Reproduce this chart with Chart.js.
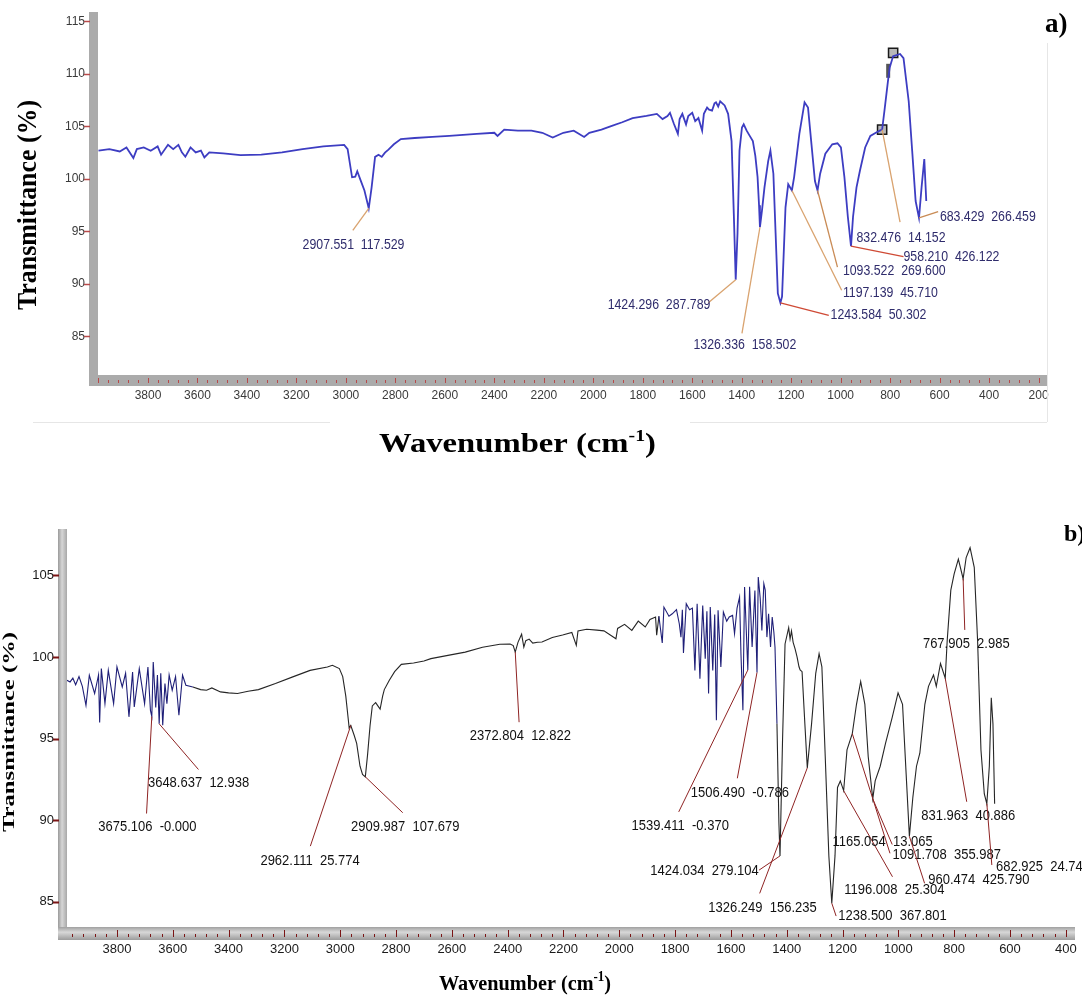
<!DOCTYPE html>
<html>
<head>
<meta charset="utf-8">
<script src="https://cdn.jsdelivr.net/npm/chart.js@4.4.1/dist/chart.umd.min.js"></script>
<style>
  body { margin: 0; background: #fff; }
  #wrap { position: relative; width: 1082px; height: 996px; overflow: hidden; background: #fff; }
  canvas { position: absolute; left: 0; }
  #chart-a { top: 0; }
  #chart-b { top: 470px; }
</style>
</head>
<body>
<div id="wrap">
  <canvas id="chart-a" width="1082" height="470"></canvas>
  <canvas id="chart-b" width="1082" height="526"></canvas>
</div>
<script>
// ---- spectrum a (wavenumber cm-1 / transmittance %) ----
const waveA = [
  4000, 3956, 3914, 3887, 3859, 3845, 3817, 3789, 3761, 3747, 3719, 3698, 3677, 3663, 3649, 3628,
  3607, 3586, 3572, 3552, 3496, 3426, 3342, 3258, 3175, 3091, 3007, 2993, 2975, 2962, 2954, 2940,
  2925, 2907.551, 2896, 2882, 2868, 2855, 2842, 2828, 2806, 2778, 2722, 2650, 2582, 2471, 2400, 2387,
  2360, 2305, 2250, 2206, 2164, 2121, 2079, 2037, 2016, 1967, 1925, 1883, 1841, 1785, 1743, 1720,
  1700, 1690, 1675, 1658, 1651, 1640, 1625, 1616, 1600, 1588, 1575, 1560, 1553, 1540, 1532, 1520,
  1510, 1504, 1495, 1487, 1469, 1455, 1441, 1432, 1424.296, 1417, 1409, 1399, 1392, 1380, 1370, 1355,
  1345, 1336, 1330, 1326.336, 1318, 1308, 1293, 1284, 1272, 1263, 1254, 1243.584, 1237, 1223, 1212, 1197.139,
  1188, 1167, 1146, 1132, 1118, 1104, 1093.522, 1083, 1062, 1034, 1013, 999, 985, 971, 958.21, 950,
  936, 922, 901, 880, 858, 842, 832.476, 823, 809, 802, 788, 774, 760, 746, 725, 711,
  697, 683.429, 673, 662, 654
];
const transA = [
  102.7, 102.84, 102.62, 103.0, 101.99, 102.84, 103.0, 102.69, 103.1, 102.31, 103.25, 102.84, 103.25, 102.53, 102.12, 103.0,
  102.53, 102.69, 102.05, 102.53, 102.43, 102.27, 102.31, 102.53, 102.84, 103.1, 103.25, 102.84, 100.16, 100.22, 100.73, 99.84,
  98.9, 97.2, 99.2, 102.1, 102.3, 102.1, 102.5, 102.8, 103.3, 103.8, 103.9, 104.0, 104.1, 104.3, 104.4, 104.1,
  104.7, 104.6, 104.6, 104.4, 103.95, 104.4, 104.6, 104.0, 104.4, 104.7, 105.05, 105.4, 105.8, 106.0, 106.2, 105.7,
  106.0, 106.3, 105.3, 104.3, 105.7, 106.2, 105.2, 106.0, 106.3, 105.5, 105.8, 104.6, 106.2, 106.8, 106.6, 106.5,
  107.2, 107.3, 106.9, 107.4, 107.0, 106.2, 103.6, 96.7, 90.4, 94.8, 102.7, 104.9, 105.2, 104.6, 104.2, 103.6,
  102.2, 100.2, 97.5, 95.4, 97.0, 99.2, 101.7, 102.7, 100.5, 94.8, 89.1, 88.2, 88.8, 97.3, 99.5, 98.9,
  100.2, 104.3, 107.3, 106.8, 103.3, 99.8, 98.9, 100.5, 102.4, 103.3, 103.4, 103.0, 100.2, 96.4, 93.6, 96.4,
  99.2, 100.8, 103.0, 104.1, 104.4, 104.6, 104.7, 106.5, 109.3, 110.6, 111.7, 111.8, 111.9, 111.5, 107.4, 102.7,
  97.9, 96.3, 99.2, 101.9, 97.9
];
// cursor markers on spectrum a
const markWaveA = [832.476, 788];
const markTransA = [104.7, 112.0];
const barWaveA = [808];
const barTransA = [110.3];

// ---- spectrum b ----
const waveB = [
  3979, 3968, 3958, 3948, 3936, 3924, 3911, 3899, 3880, 3866, 3862, 3856, 3843, 3831, 3812, 3800,
  3781, 3769, 3757, 3744, 3738, 3720, 3701, 3689, 3680, 3675.106, 3670, 3661, 3655, 3648.637, 3643, 3636,
  3628, 3621, 3613, 3602, 3590, 3578, 3565, 3553, 3528, 3500, 3479, 3460, 3429, 3400, 3368, 3330,
  3293, 3232, 3170, 3108, 3046, 3028, 3003, 2991, 2980, 2970, 2968, 2962.111, 2950, 2941, 2929, 2920,
  2909.987, 2902, 2893, 2885, 2873, 2865, 2857, 2848, 2842, 2824, 2805, 2781, 2737, 2700, 2675, 2614,
  2552, 2490, 2428, 2391, 2380, 2372.804, 2363, 2350, 2342, 2335, 2323, 2310, 2293, 2277, 2240, 2203,
  2170, 2154, 2148, 2117, 2080, 2055, 2012, 2006, 1981, 1955, 1932, 1907, 1890, 1870, 1866, 1858,
  1846, 1840, 1822, 1810, 1795, 1785, 1779, 1774, 1770, 1760, 1748, 1738, 1729, 1721, 1711, 1701,
  1692, 1686, 1680, 1674, 1665, 1658, 1652, 1646, 1636, 1627, 1615, 1606, 1594, 1587, 1578, 1569,
  1564, 1557, 1551, 1539.411, 1533, 1524, 1514, 1506.49, 1502, 1495, 1489, 1482, 1477, 1471, 1465, 1458,
  1452, 1446, 1442, 1435, 1428, 1424.034, 1415, 1406, 1393, 1388, 1383, 1377, 1370, 1363, 1356, 1352,
  1345, 1335, 1326.249, 1311, 1296, 1284, 1274, 1262, 1249, 1238.5, 1227, 1218, 1208, 1196.008, 1184, 1165.054,
  1150, 1135, 1120, 1108, 1091.708, 1083, 1065, 1046, 1022, 1001, 985, 972, 960.474, 948, 935, 923,
  905, 892, 874, 864, 849, 831.963, 825, 812, 800, 785, 767.905, 757, 743, 728, 716, 704,
  692, 682.925, 674, 667, 661, 655
];
const transB = [
  98.57, 98.47, 98.7, 98.3, 98.8, 98.2, 97.04, 98.88, 97.76, 98.9, 95.98, 99.29, 97.14, 99.18, 97.14, 99.39,
  98.16, 99.0, 96.33, 99.08, 96.94, 99.29, 97.14, 99.39, 96.73, 96.35, 99.69, 96.9, 98.9, 95.9, 99.0, 95.82,
  98.37, 97.14, 98.9, 97.96, 98.8, 96.43, 98.88, 98.27, 98.16, 98.0, 97.96, 98.1, 97.86, 97.8, 97.76, 97.9,
  98.0, 98.37, 98.78, 99.18, 99.39, 99.49, 99.29, 98.8, 97.6, 96.0, 95.65, 95.8, 95.2, 94.7, 93.3, 92.8,
  92.65, 94.0, 95.8, 97.0, 97.2, 97.0, 96.8, 97.6, 98.0, 98.57, 99.1, 99.55, 99.63, 99.75, 99.9, 100.1,
  100.3, 100.6, 100.78, 100.8, 100.7, 100.3, 100.9, 101.4, 100.6, 101.0, 101.1, 100.85, 100.9, 100.92, 101.2, 101.35,
  101.5, 100.71, 101.6, 101.7, 101.65, 101.6, 101.12, 101.75, 102.0, 101.63, 102.2, 101.84, 102.3, 102.45, 101.33, 102.5,
  100.86, 103.06, 102.5, 102.65, 102.9, 102.04, 101.22, 102.9, 100.24, 103.27, 102.9, 103.0, 99.18, 103.27, 98.67, 103.16,
  99.9, 102.8, 97.76, 103.06, 99.18, 102.6, 96.12, 102.86, 99.39, 102.76, 102.2, 102.45, 102.55, 101.43, 103.0, 103.67,
  100.2, 96.73, 104.29, 99.2, 104.3, 100.61, 104.08, 99.05, 104.9, 103.6, 101.63, 104.49, 104.1, 101.22, 102.65, 100.61,
  102.45, 101.5, 100.6, 95.9, 89.8, 87.8, 94.9, 100.8, 101.8, 101.1, 101.6, 100.9, 100.5, 100.0, 99.4, 99.2,
  99.1, 95.9, 93.2, 95.9, 99.0, 100.2, 99.4, 93.9, 87.8, 84.9, 87.8, 92.0, 92.4, 91.8, 94.3, 95.3,
  97.1, 98.5, 97.1, 93.9, 91.3, 92.4, 93.3, 94.7, 96.3, 97.8, 97.1, 92.8, 89.0, 91.4, 93.3, 94.1,
  97.1, 98.2, 98.9, 98.2, 99.6, 98.7, 101.0, 104.1, 105.1, 106.0, 104.8, 106.1, 106.7, 105.5, 101.0, 94.3,
  91.6, 91.0, 93.3, 97.5, 95.9, 91.0
];

// ---- axis ticks ----
const xTicksA = [3800, 3600, 3400, 3200, 3000, 2800, 2600, 2400, 2200, 2000, 1800, 1600, 1400, 1200, 1000, 800, 600, 400, 200];
const yTicksA = [85, 90, 95, 100, 105, 110, 115];
const xTicksB = [3800, 3600, 3400, 3200, 3000, 2800, 2600, 2400, 2200, 2000, 1800, 1600, 1400, 1200, 1000, 800, 600, 400];
const yTicksB = [85, 90, 95, 100, 105];

// ---- peak labels ----
const noteTextA = ['2907.551  117.529', '1424.296  287.789', '1326.336  158.502', '1243.584  50.302', '1197.139  45.710',
  '1093.522  269.600', '958.210  426.122', '832.476  14.152', '683.429  266.459'];
const noteWaveA = [2907.551, 1424.296, 1326.336, 1243.584, 1197.139, 1093.522, 958.21, 832.476, 683.429];
const noteTextB = ['3648.637  12.938', '3675.106  -0.000', '2962.111  25.774', '2909.987  107.679', '2372.804  12.822',
  '1539.411  -0.370', '1506.490  -0.786', '1424.034  279.104', '1326.249  156.235', '1238.500  367.801',
  '1196.008  25.304', '1165.054  13.065', '1091.708  355.987', '960.474  425.790', '831.963  40.886',
  '767.905  2.985', '682.925  24.747'];
const noteWaveB = [3648.637, 3675.106, 2962.111, 2909.987, 2372.804, 1539.411, 1506.49, 1424.034, 1326.249, 1238.5,
  1196.008, 1165.054, 1091.708, 960.474, 831.963, 767.905, 682.925];

// label placement: [leader end x, leader end y, text x, text y] in axis units
const notePlaceA = [
  [2972, 95.1, 3175, 93.7], [1535, 88.2, 1942, 88.0], [1399, 85.3, 1595, 84.2], [1048, 87.0, 1041, 87.0],
  [996, 89.4, 991, 89.1], [1013, 91.6, 991, 91.2], [746, 92.6, 746, 92.6], [760, 95.9, 936, 94.4], [606, 96.9, 599, 96.4]
];
const noteLineA = ['#d9a36f', '#d9a36f', '#d9a36f', '#cf4a35', '#d9a36f', '#c98b55', '#cf4a35', '#d9a36f', '#c98b55'];
const notePlaceB = [
  [3508, 93.1, 3689, 92.25], [3694, 90.4, 3867, 89.55], [3107, 88.4, 3286, 87.5], [2776, 90.45, 2961, 89.55],
  [2359, 96.0, 2536, 95.15], [1787, 90.5, 1956, 89.63], [1577, 92.56, 1744, 91.64], [1499, 86.93, 1889, 86.87],
  [1497, 85.5, 1681, 84.64], [1223, 84.11, 1215, 84.11], [1021, 86.52, 1194, 85.7], [1030, 87.96, 1236, 88.67],
  [1022, 88.5, 1021, 87.85], [906, 86.12, 893, 86.32], [755, 91.12, 918, 90.25], [762, 101.66, 912, 100.8],
  [665, 87.24, 650, 87.1]
];
const noiseBandsB = [[3540, 3990], [1440, 1860]];

const SERIF = '"Liberation Serif", "Times New Roman", serif';
const SANS = '"Liberation Sans", Arial, sans-serif';

const toPoints = (ws, ts) => ws.map((w, i) => ({ x: w, y: ts[i] }));

// text squeezed/stretched along its baseline to a target length
function fitText(ctx, str, cx, cy, angle, font, len) {
  ctx.save();
  ctx.font = font;
  const sx = len / ctx.measureText(str).width;
  ctx.translate(cx, cy);
  ctx.rotate(angle);
  ctx.scale(sx, 1);
  ctx.textAlign = 'center';
  ctx.textBaseline = 'middle';
  ctx.fillStyle = '#000';
  ctx.fillText(str, 0, 0);
  ctx.restore();
}

function drawUnitTitle(ctx, left, right, baseline, size) {
  const big = `bold ${size}px ${SERIF}`;
  const small = `bold ${Math.round(size * 0.62)}px ${SERIF}`;
  ctx.save();
  ctx.font = big;
  const w1 = ctx.measureText('Wavenumber (cm').width;
  const w3 = ctx.measureText(')').width;
  ctx.font = small;
  const w2 = ctx.measureText('-1').width;
  const sx = (right - left) / (w1 + w2 + w3);
  ctx.translate(left, baseline);
  ctx.scale(sx, 1);
  ctx.fillStyle = '#000';
  ctx.textAlign = 'left';
  ctx.textBaseline = 'alphabetic';
  ctx.font = big;
  ctx.fillText('Wavenumber (cm', 0, 0);
  ctx.font = small;
  ctx.fillText('-1', w1, -size * 0.4);
  ctx.font = big;
  ctx.fillText(')', w1 + w2, 0);
  ctx.restore();
}

function drawNotes(chart, n) {
  const { ctx, scales: { x, y } } = chart;
  ctx.save();
  ctx.font = n.font;
  ctx.textAlign = 'left';
  ctx.textBaseline = 'middle';
  n.text.forEach((label, i) => {
    const w = n.wave[i];
    const t = n.trans[n.waves.indexOf(w)];
    const [ew, et, tw, tt] = n.place[i];
    ctx.strokeStyle = n.lineColor[i];
    ctx.lineWidth = n.lineWidth;
    ctx.beginPath();
    ctx.moveTo(x.getPixelForValue(w), y.getPixelForValue(t));
    ctx.lineTo(x.getPixelForValue(ew), y.getPixelForValue(et));
    ctx.stroke();
    ctx.save();
    ctx.translate(x.getPixelForValue(tw), y.getPixelForValue(tt));
    ctx.scale(n.sx, n.sy);
    ctx.fillStyle = n.color;
    ctx.fillText(label, 0, 0);
    ctx.restore();
  });
  ctx.restore();
}

// gray axis bars with tick marks, titles, peak labels
const frameAndNotes = {
  id: 'frameAndNotes',
  afterDraw(chart, args, o) {
    const { ctx, chartArea: a, scales: { x, y } } = chart;
    ctx.save();
    if (o.gradient) {
      let g = ctx.createLinearGradient(a.left - o.bar, 0, a.left, 0);
      g.addColorStop(0, '#9a9a9a'); g.addColorStop(0.45, '#d6d6d6'); g.addColorStop(1, '#a8a8a8');
      ctx.fillStyle = g;
      ctx.fillRect(a.left - o.bar, a.top, o.bar, a.bottom - a.top + o.band);
      g = ctx.createLinearGradient(0, a.bottom, 0, a.bottom + o.band);
      g.addColorStop(0, '#a0a0a0'); g.addColorStop(0.4, '#d8d8d8'); g.addColorStop(1, '#9c9c9c');
      ctx.fillStyle = g;
      ctx.fillRect(a.left - o.bar, a.bottom, a.right - a.left + o.bar, o.band);
    } else {
      ctx.fillStyle = o.barColor;
      ctx.fillRect(a.left - o.bar, a.top, o.bar, a.bottom - a.top + o.band);
      ctx.fillRect(a.left - o.bar, a.bottom, a.right - a.left + o.bar, o.band);
    }
    // x tick marks inside the band
    ctx.strokeStyle = o.tickColor;
    ctx.lineWidth = 1;
    for (let w = 4000; w >= 200; w -= 40) {
      const px = Math.round(x.getPixelForValue(w)) + 0.5;
      if (px < a.left - 1 || px > a.right + 1) continue;
      const major = w % 200 === 0;
      ctx.beginPath();
      ctx.moveTo(px, a.bottom + (major ? o.majorTop : o.minorTop));
      ctx.lineTo(px, a.bottom + o.tickBottom);
      ctx.stroke();
    }
    // y tick marks left of the bar
    ctx.lineWidth = o.yTickWidth;
    o.yTicks.forEach(v => {
      const py = Math.round(y.getPixelForValue(v)) + 0.5;
      ctx.beginPath();
      ctx.moveTo(a.left - o.bar - o.yTickLen, py);
      ctx.lineTo(a.left - o.bar + 1, py);
      ctx.stroke();
    });
    if (o.frameLines) {
      ctx.strokeStyle = '#e6e6e6';
      ctx.lineWidth = 1;
      o.frameLines.forEach(l => {
        ctx.beginPath();
        ctx.moveTo(l[0], l[1]);
        ctx.lineTo(l[2], l[3]);
        ctx.stroke();
      });
    }
    ctx.restore();

    drawNotes(chart, o.notes);

    fitText(ctx, 'Transmittance (%)', o.yTitle.x, o.yTitle.y, -Math.PI / 2, `bold ${o.yTitle.size}px ${SERIF}`, o.yTitle.len);
    drawUnitTitle(ctx, o.xTitle.left, o.xTitle.right, o.xTitle.base, o.xTitle.size);
    ctx.save();
    ctx.font = `bold ${o.tag.size}px ${SERIF}`;
    ctx.fillStyle = '#000';
    ctx.textBaseline = 'alphabetic';
    ctx.fillText(o.tag.text, o.tag.x, o.tag.base);
    ctx.restore();
  }
};

function makeChart(id, s) {
  return new Chart(document.getElementById(id), {
    type: 'line',
    data: { datasets: s.datasets },
    options: {
      responsive: false,
      animation: false,
      events: [],
      layout: { padding: s.padding },
      plugins: {
        legend: { display: false },
        tooltip: { enabled: false },
        frameAndNotes: s.deco
      },
      scales: {
        x: {
          type: 'linear', reverse: true, min: s.xMin, max: s.xMax,
          grid: { display: false, drawTicks: false },
          border: { display: false },
          afterBuildTicks: sc => { sc.ticks = s.xTicks.map(v => ({ value: v })); },
          afterFit: sc => { sc.height = 40; sc.paddingLeft = 0; sc.paddingRight = 0; },
          ticks: { autoSkip: false, maxRotation: 0, padding: s.xPad, color: s.tickColor, font: s.tickFont, callback: v => String(v) }
        },
        y: {
          type: 'linear', min: s.yMin, max: s.yMax,
          grid: { display: false, drawTicks: false },
          border: { display: false },
          afterBuildTicks: sc => { sc.ticks = s.yTicks.map(v => ({ value: v })); },
          afterFit: sc => { sc.width = s.yWidth; sc.paddingTop = 0; sc.paddingBottom = 0; },
          ticks: { padding: s.yPad, color: s.tickColor, font: s.tickFont, callback: v => String(v) }
        }
      }
    },
    plugins: [frameAndNotes]
  });
}

// panel a
makeChart('chart-a', {
  datasets: [
    { data: toPoints(waveA, transA), borderColor: '#3d3dc2', borderWidth: 1.8, pointRadius: 0, tension: 0 },
    { data: toPoints(markWaveA, markTransA), showLine: false, pointStyle: 'rect', pointRadius: 6.5,
      pointBackgroundColor: '#b8b8b8', pointBorderColor: '#1a1a1a', pointBorderWidth: 1.5 },
    { data: toPoints(barWaveA, barTransA), showLine: false, pointStyle: 'line', rotation: 90, pointRadius: 7,
      pointBorderColor: '#555', pointBorderWidth: 4 }
  ],
  padding: { top: 12, right: 35, bottom: 55, left: 0 },
  xMin: 166, xMax: 4002, yMin: 81.33, yMax: 115.9,
  xTicks: xTicksA, yTicks: yTicksA,
  yWidth: 98, xPad: 13, yPad: 13,
  tickColor: '#3a3a3a',
  tickFont: { family: SANS, size: 12 },
  deco: {
    bar: 9, band: 11, barColor: '#ababab', gradient: false,
    tickColor: '#b84a4a', majorTop: 3, minorTop: 5, tickBottom: 8,
    yTicks: yTicksA, yTickLen: 5, yTickWidth: 1.5,
    frameLines: [[33, 422.5, 330, 422.5], [690, 422.5, 1047, 422.5], [1047.5, 43, 1047.5, 422]],
    notes: { text: noteTextA, wave: noteWaveA, waves: waveA, trans: transA, place: notePlaceA,
      lineColor: noteLineA, lineWidth: 1.3, font: `14px ${SANS}`, color: '#2f2c6c', sx: 0.88, sy: 1 },
    yTitle: { x: 29, y: 205, size: 27, len: 210 },
    xTitle: { left: 379, right: 656, base: 452, size: 28 },
    tag: { text: 'a)', x: 1045, base: 32, size: 27 }
  }
});

// panel b
makeChart('chart-b', {
  datasets: [
    { data: toPoints(waveB, transB), borderWidth: 1.1, pointRadius: 0, tension: 0, borderColor: '#262626',
      segment: {
        borderColor: c => noiseBandsB.some(b => c.p0.parsed.x >= b[0] && c.p0.parsed.x <= b[1]) ? '#1f1f78' : '#262626'
      } }
  ],
  padding: { top: 59, right: 7, bottom: 29, left: 0 },
  xMin: 367, xMax: 3979, yMin: 83.44, yMax: 107.85,
  xTicks: xTicksB, yTicks: yTicksB,
  yWidth: 67, xPad: 15, yPad: 13,
  tickColor: '#1a1a1a',
  tickFont: { family: SANS, size: 13 },
  deco: {
    bar: 9, band: 13, gradient: true,
    tickColor: '#7a1414', majorTop: 3, minorTop: 7, tickBottom: 10,
    yTicks: yTicksB, yTickLen: 5, yTickWidth: 2,
    frameLines: null,
    notes: { text: noteTextB, wave: noteWaveB, waves: waveB, trans: transB, place: notePlaceB,
      lineColor: noteTextB.map(() => '#8e2323'), lineWidth: 1, font: `13px ${SANS}`, color: '#111', sx: 1, sy: 1.15 },
    yTitle: { x: 10, y: 262, size: 17, len: 200 },
    xTitle: { left: 439, right: 611, base: 520, size: 22 },
    tag: { text: 'b)', x: 1064, base: 71, size: 24 }
  }
});
</script>
</body>
</html>
